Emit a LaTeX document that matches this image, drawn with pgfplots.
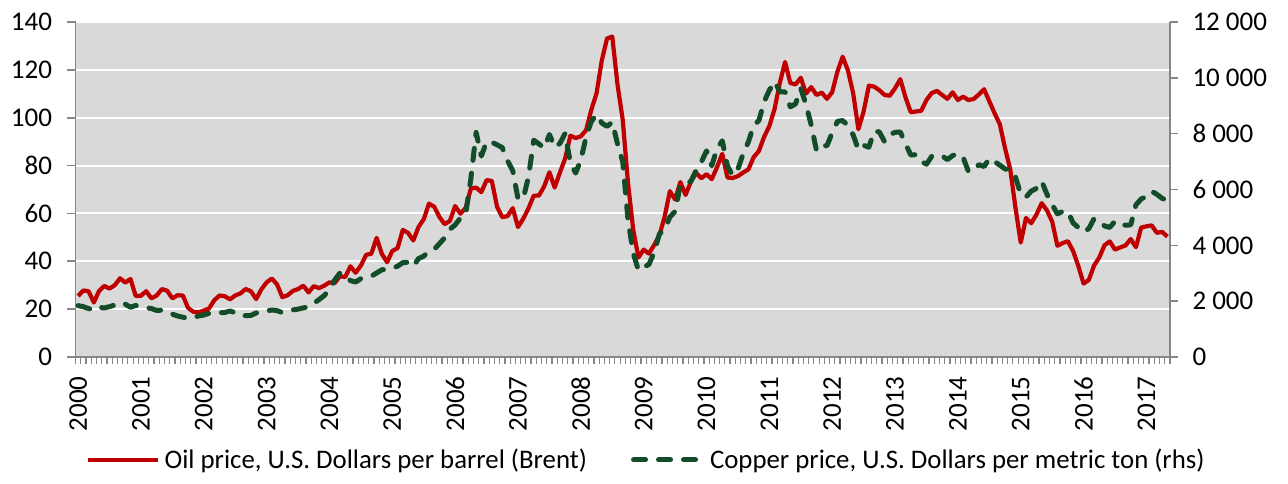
\documentclass[border=0pt]{standalone}
\usepackage{fontspec}
\setmainfont{Carlito}
\usepackage{pgfplots}
\pgfplotsset{compat=1.18}
\usepackage{pgfplotstable}
\definecolor{oilred}{RGB}{192,0,0}
\definecolor{copgreen}{RGB}{18,76,40}
\definecolor{plotbg}{RGB}{217,217,217}
\definecolor{axgray}{RGB}{134,134,134}

\pgfplotstableread{
oil copper
25.5 1841
27.8 1801
27.5 1735
22.8 1675
27.6 1781
29.7 1757
28.6 1804
30.0 1860
32.9 1948
31.1 1893
32.6 1782
25.5 1848
25.6 1798
27.5 1770
24.5 1735
25.7 1667
28.4 1678
27.7 1614
24.5 1535
25.8 1469
25.7 1426
20.5 1378
18.9 1409
18.7 1472
19.4 1502
20.3 1566
23.7 1603
25.7 1588
25.4 1594
24.1 1648
25.7 1586
26.6 1478
28.4 1482
27.5 1488
24.2 1578
28.3 1597
31.2 1648
32.8 1684
30.3 1660
25.0 1588
25.8 1648
27.6 1688
28.4 1714
29.8 1760
27.0 1790
29.6 1924
28.8 2055
29.8 2201
31.2 2423
30.9 2759
33.8 3008
33.4 2943
37.9 2736
35.2 2686
38.2 2808
42.7 2846
43.2 2895
49.8 3009
43.1 3124
39.6 3138
44.3 3170
45.5 3253
53.1 3379
51.9 3396
48.7 3249
54.3 3525
57.6 3612
64.1 3797
62.8 3857
58.5 4060
55.5 4270
56.9 4577
63.1 4734
59.9 4982
62.3 5102
70.4 6387
70.8 8046
68.9 7197
73.9 7712
73.6 7695
62.8 7602
58.4 7500
58.9 7029
62.2 6675
54.3 5670
57.8 5676
62.1 6452
67.4 7766
67.5 7633
71.3 7484
77.2 7970
70.8 7510
77.1 7652
82.9 8008
92.5 6963
91.5 6587
92.2 7061
94.8 7888
103.3 8439
110.2 8685
123.9 8383
133.1 8260
133.9 8414
113.9 7634
99.1 6991
72.8 4926
53.2 3717
41.6 3105
44.9 3221
43.2 3315
46.8 3750
50.8 4407
58.6 4569
69.3 5014
65.8 5216
73.1 6165
67.7 6196
73.2 6288
77.0 6676
74.7 6982
76.4 7386
74.3 6849
79.3 7463
84.9 7745
75.0 6838
74.8 6499
75.6 6735
77.1 7284
78.4 7709
83.5 8292
86.1 8471
92.0 9147
96.5 9556
103.7 9868
114.6 9503
123.3 9493
114.5 8960
113.9 9067
116.7 9619
110.1 9040
112.8 8300
109.5 7394
110.5 7581
107.9 7565
110.7 8040
119.3 8441
125.5 8471
119.8 8289
110.3 7955
95.2 7423
102.6 7584
113.4 7515
113.0 8088
111.5 8062
109.5 7711
109.2 7967
112.3 8047
116.1 8061
108.5 7645
102.3 7234
102.6 7249
102.9 7000
107.4 6907
110.3 7187
111.2 7159
109.5 7203
107.9 7071
110.6 7215
107.4 7291
108.8 7149
107.4 6650
107.8 6674
109.7 6891
111.9 6821
106.9 7113
101.9 7002
97.3 6872
87.3 6737
78.4 6713
62.3 6446
47.8 5831
58.1 5729
55.9 5940
59.5 6042
64.3 6295
61.3 5833
56.6 5457
46.5 5127
47.6 5217
48.4 5216
44.3 4800
38.0 4639
30.7 4472
32.2 4599
38.2 4954
41.6 4873
46.7 4695
48.3 4642
44.9 4864
45.8 4751
46.6 4722
49.3 4731
45.9 5450
54.1 5660
54.6 5755
55.0 5941
51.9 5825
52.3 5684
50.3 5600
}\pricedata

\begin{document}
\begin{tikzpicture}
\useasboundingbox (0,0) rectangle (1288bp,484bp);
\begin{axis}[
  at={(75.5bp,127bp)}, anchor=south west,
  scale only axis, width=1094.5bp, height=335bp,
  xmin=-0.5, xmax=208.5, ymin=0, ymax=140,
  axis background/.style={fill=plotbg},
  axis x line*=bottom, axis y line*=left,
  axis line style={axgray, line width=1.6bp},
  tick align=outside,
  ytick={0,20,...,140},
  yticklabels={0,20,40,60,80,100,120,140},
  major tick length=8bp, minor tick length=7bp,
  ymajorgrids, grid style={white, line width=2bp},
  ytick style={axgray, line width=1.6bp},
  xtick={0,12,...,204},
  xticklabels={2000,2001,2002,2003,2004,2005,2006,2007,2008,2009,2010,2011,2012,2013,2014,2015,2016,2017},
  minor xtick={-0.5,0.5,...,208.5},
  major x tick style={draw=none},
  minor x tick style={axgray, line width=1.2bp},
  ticklabel style={font=\fontsize{27bp}{31bp}\selectfont, text=black},
  xticklabel style={rotate=90, anchor=east},
  xticklabel shift=8bp,
  yticklabel shift=12bp,
  legend style={at={(0.5226,-0.307)}, anchor=center, draw=none, fill=none,
    font=\fontsize{26.8bp}{30bp}\selectfont, legend columns=2,
    /tikz/every even column/.append style={column sep=40bp},
    nodes={inner xsep=4bp}},
  legend image code/.code={\draw[#1] (0bp,0bp) -- (70bp,0bp);},
]
\addplot[oilred, line width=4.2bp, line join=round] table[x expr=\coordindex, y=oil] {\pricedata};
\addlegendentry{Oil price, U.S. Dollars per barrel (Brent)}
\addlegendimage{copgreen, line width=5bp, line cap=round, dash pattern=on 12bp off 13bp}
\addlegendentry{Copper price, U.S. Dollars per metric ton (rhs)}
\end{axis}
\begin{axis}[
  at={(75.5bp,127bp)}, anchor=south west,
  scale only axis, width=1094.5bp, height=335bp,
  xmin=-0.5, xmax=208.5, ymin=0, ymax=12000,
  axis x line=none, axis y line*=right,
  axis line style={axgray, line width=1.6bp},
  tick align=outside, major tick length=8bp,
  scaled y ticks=false,
  ytick={0,2000,...,12000},
  yticklabels={0,2 000,4 000,6 000,8 000,10 000,12 000},
  ytick style={axgray, line width=1.6bp},
  ticklabel style={font=\fontsize{27bp}{31bp}\selectfont, text=black},
  yticklabel shift=11bp,
]
\addplot[copgreen, line width=5bp, line cap=round, line join=round, dash pattern=on 12bp off 13bp] table[x expr=\coordindex, y=copper] {\pricedata};
\end{axis}
\end{tikzpicture}
\end{document}
